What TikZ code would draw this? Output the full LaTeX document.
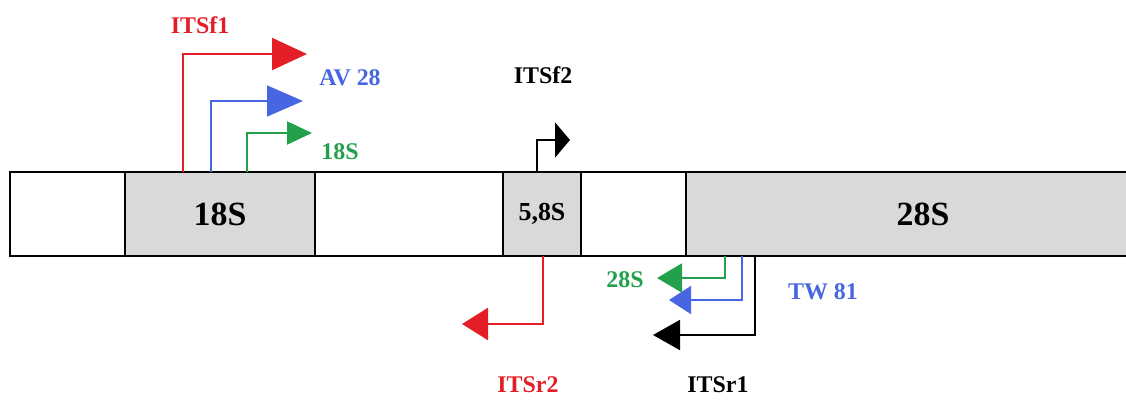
\documentclass[tikz,border=0pt]{standalone}
\usepackage{fontspec}
\setmainfont{Liberation Serif}
\usetikzlibrary{arrows.meta,positioning}
\definecolor{itsred}{RGB}{228,30,38}
\definecolor{itsblue}{RGB}{72,102,225}
\definecolor{itsgreen}{RGB}{34,160,75}
\definecolor{rnagray}{RGB}{217,217,217}

\begin{document}
\begin{tikzpicture}[x=1bp, y=-1bp, node distance=0bp,
    seg/.style={draw, line width=1.3bp, minimum height=84bp, inner sep=0pt, outer sep=0pt,
                font=\bfseries\fontsize{34}{36}\selectfont},
    gene/.style={seg, fill=rnagray},
    primer/.style={line width=2bp},
    plabel/.style={font=\bfseries\fontsize{24}{26}\selectfont}]

  \useasboundingbox (0,0) rectangle (1126,400);

  % rDNA unit
  \node[seg, minimum width=115bp, anchor=north west] (ets) at (10,172) {};
  \node[gene, minimum width=190bp, right=of ets] (s18) {18S};
  \node[seg, minimum width=188bp, right=of s18] (its1) {};
  \node[gene, minimum width=78bp, right=of its1, font=\bfseries\fontsize{26}{28}\selectfont] (s58) {5,8S};
  \node[seg, minimum width=105bp, right=of s58] (its2) {};
  \node[gene, minimum width=474bp, right=of its2] (s28) {28S};

  % primer points
  \coordinate (f1a) at (183,172);  \coordinate (f1b) at (307,54);
  \coordinate (av28a) at (211,172); \coordinate (av28b) at (303,101);
  \coordinate (f18a) at (247,172); \coordinate (f18b) at (312,133);
  \coordinate (f2a) at (537,172);  \coordinate (f2b) at (570,140);
  \coordinate (r2a) at (543,256);  \coordinate (r2b) at (462,324);
  \coordinate (r28a) at (725,256); \coordinate (r28b) at (657,278);
  \coordinate (tw81a) at (742,256); \coordinate (tw81b) at (669,300);
  \coordinate (r1a) at (755,256);  \coordinate (r1b) at (653,335);

  % forward primers
  \draw[primer, itsred, -{Triangle[length=35bp,width=32bp]}] (f1a) |- (f1b);
  \draw[primer, itsblue, line width=1.6bp, -{Triangle[length=36bp,width=31bp]}] (av28a) |- (av28b);
  \draw[primer, itsgreen, -{Triangle[length=25bp,width=23bp]}] (f18a) |- (f18b);
  \draw[primer, black, -{Triangle[length=15bp,width=35bp]}] (f2a) |- (f2b);

  % reverse primers
  \draw[primer, itsred, -{Triangle[length=26bp,width=32bp]}] (r2a) |- (r2b);
  \draw[primer, itsgreen, -{Triangle[length=25bp,width=29bp]}] (r28a) |- (r28b);
  \draw[primer, itsblue, line width=1.6bp, -{Triangle[length=22bp,width=28bp]}] (tw81a) |- (tw81b);
  \draw[primer, black, -{Triangle[length=27bp,width=30bp]}] (r1a) |- (r1b);

  % labels
  \node[plabel, itsred] (lf1) at (200,25) {ITSf1};
  \node[plabel, itsblue] (lav28) at (350,78) {AV 28};
  \node[plabel, itsgreen] (lf18) at (340,152) {18S};
  \node[plabel] (lf2) at (543,75) {ITSf2};
  \node[plabel, itsred] (lr2) at (528,385) {ITSr2};
  \node[plabel, itsgreen] (lr28) at (625,280) {28S};
  \node[plabel, itsblue] (ltw81) at (823,292) {TW 81};
  \node[plabel] (lr1) at (718,385) {ITSr1};

\end{tikzpicture}
\end{document}
